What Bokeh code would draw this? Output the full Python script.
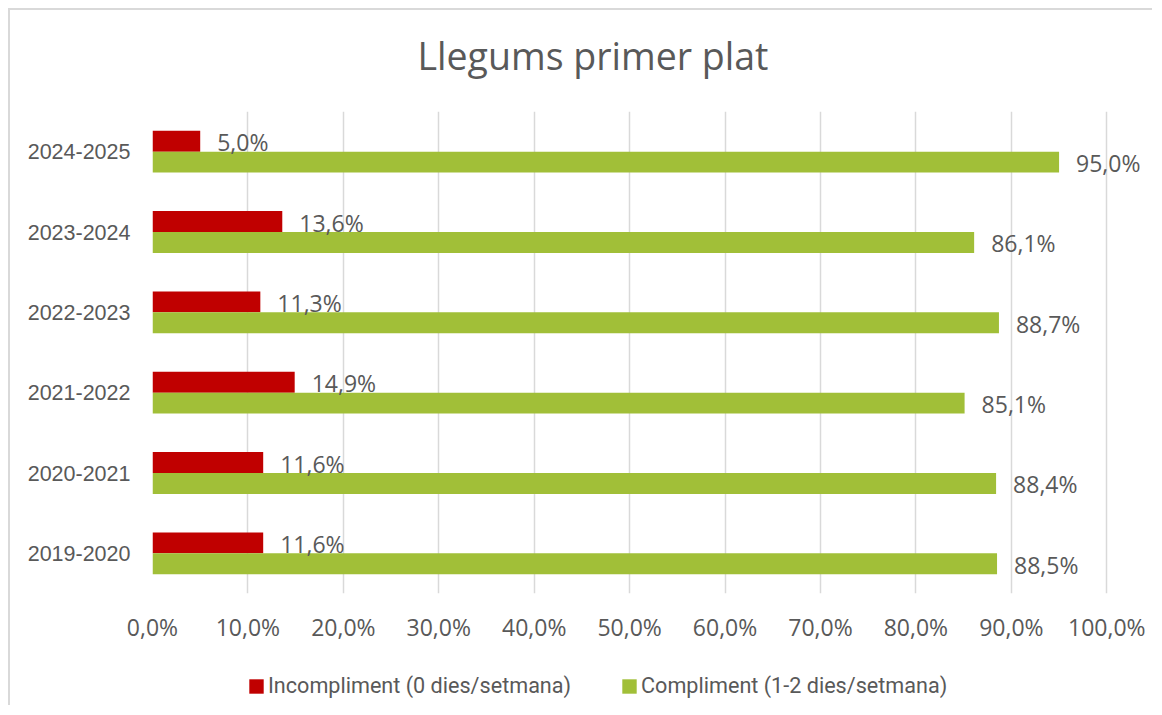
from bokeh.plotting import figure
from bokeh.models import (ColumnDataSource, FactorRange, FixedTicker, Legend, LegendItem, Label)
from bokeh.layouts import column
from bokeh.transform import dodge
from bokeh.core.properties import value
from bokeh.embed import file_html
from bokeh.resources import INLINE

# ---- data ----
years = ["2019-2020", "2020-2021", "2021-2022", "2022-2023", "2023-2024", "2024-2025"]
incompliment = [11.6, 11.6, 14.9, 11.3, 13.6, 5.0]
compliment = [88.5, 88.4, 85.1, 88.7, 86.1, 95.0]
series_names = ["Incompliment (0 dies/setmana)", "Compliment (1-2 dies/setmana)"]
x_ticks = [0, 10, 20, 30, 40, 50, 60, 70, 80, 90, 100]
x_tick_labels = ["0,0%", "10,0%", "20,0%", "30,0%", "40,0%", "50,0%",
                 "60,0%", "70,0%", "80,0%", "90,0%", "100,0%"]
title_text = "Llegums primer plat"

RED = "#C00000"
GREEN = "#A1BF38"
TXT = "#595959"
GRID = "#D9D9D9"
BORDER = "2px solid #D9D9D9"


def fmt(v):
    return f"{v:.1f}".replace(".", ",") + "%"


src = ColumnDataSource(dict(
    year=years,
    inc=incompliment,
    comp=compliment,
    inc_lbl=[fmt(v) for v in incompliment],
    comp_lbl=[fmt(v) for v in compliment],
))


def bare(fig):
    fig.outline_line_color = None
    fig.background_fill_color = "white"
    fig.border_fill_color = "white"
    return fig


# ---- title strip ----
tf = bare(figure(width=1144, height=103, output_backend="svg", toolbar_location=None,
                 x_range=(0, 1), y_range=(0, 1), x_axis_location=None, y_axis_location=None,
                 min_border_left=142, min_border_right=0, min_border_top=0, min_border_bottom=0))
tf.margin = (8, 0, 0, 8)
tf.styles = {"border-left": BORDER, "border-top": BORDER}
tf.grid.grid_line_color = None
tf.add_layout(Label(x=440.5, y=58, x_units="screen", y_units="screen", text=title_text,
                    text_align="center", text_baseline="alphabetic",
                    text_font="Open Sans", text_font_size="37.5px", text_color=TXT))

# ---- main chart ----
p = bare(figure(width=1144, height=557, output_backend="svg", toolbar_location=None,
                x_range=(0, 105), y_range=FactorRange(factors=years, range_padding=0, factor_padding=0),
                min_border_left=142, min_border_right=0, min_border_top=0, min_border_bottom=75))
p.margin = (0, 0, 0, 8)
p.styles = {"border-left": BORDER}

r_inc = p.hbar(y=dodge("year", 0.13, range=p.y_range), left=0, right="inc", height=0.26,
               source=src, fill_color=RED, line_color=None)
r_comp = p.hbar(y=dodge("year", -0.13, range=p.y_range), left=0, right="comp", height=0.26,
                source=src, fill_color=GREEN, line_color=None)

p.text(x="inc", y=dodge("year", 0.13, range=p.y_range), text="inc_lbl", source=src,
       x_offset=17, y_offset=1, text_align="left", text_baseline="middle",
       text_font=value("Open Sans"), text_font_size="23px", text_color=TXT)
p.text(x="comp", y=dodge("year", -0.13, range=p.y_range), text="comp_lbl", source=src,
       x_offset=17, y_offset=1, text_align="left", text_baseline="middle",
       text_font=value("Open Sans"), text_font_size="23px", text_color=TXT)

p.xaxis.ticker = FixedTicker(ticks=x_ticks)
p.xaxis.major_label_overrides = {t: l for t, l in zip(x_ticks, x_tick_labels)}
for ax in (p.xaxis, p.yaxis):
    ax.axis_line_color = None
    ax.major_tick_line_color = None
    ax.minor_tick_line_color = None
    ax.major_tick_out = 0
    ax.major_tick_in = 0
    ax.minor_tick_out = 0
    ax.major_label_text_color = TXT
p.xaxis.major_label_text_font = "Open Sans"
p.xaxis.major_label_text_font_size = "23px"
p.xaxis.major_label_standoff = 17
p.yaxis.major_label_text_font = "Liberation Sans"
p.yaxis.major_label_text_font_size = "21.5px"
p.yaxis.major_label_standoff = 22

p.xgrid.grid_line_color = GRID
p.xgrid.grid_line_width = 1.5
p.ygrid.grid_line_color = None

# ---- legend strip ----
lf = bare(figure(width=1144, height=37, output_backend="svg", toolbar_location=None,
                 x_range=(0, 1), y_range=(0, 1), x_axis_location=None, y_axis_location=None,
                 min_border_left=142, min_border_right=0, min_border_top=0, min_border_bottom=0))
lf.margin = (0, 0, 0, 8)
lf.styles = {"border-left": BORDER}
lf.grid.grid_line_color = None
# legend proxies (zero-size, outside the visible range)
l_inc = lf.hbar(y=[-5], left=[0], right=[0], height=0.5, fill_color=RED, line_color=None)
l_comp = lf.hbar(y=[-5], left=[0], right=[0], height=0.5, fill_color=GREEN, line_color=None)

legend = Legend(items=[LegendItem(label=series_names[0], renderers=[l_inc]),
                       LegendItem(label=series_names[1], renderers=[l_comp])],
                orientation="horizontal", location=(95, 7),
                glyph_width=18, glyph_height=18, label_standoff=3, spacing=49,
                padding=0, margin=0, border_line_color=None, background_fill_alpha=0,
                label_text_font="Roboto", label_text_font_size="21.6px",
                label_text_color=TXT)
lf.add_layout(legend, "center")

layout = column(tf, p, lf, spacing=0)
open("out.html", "w").write(file_html(layout, INLINE))
